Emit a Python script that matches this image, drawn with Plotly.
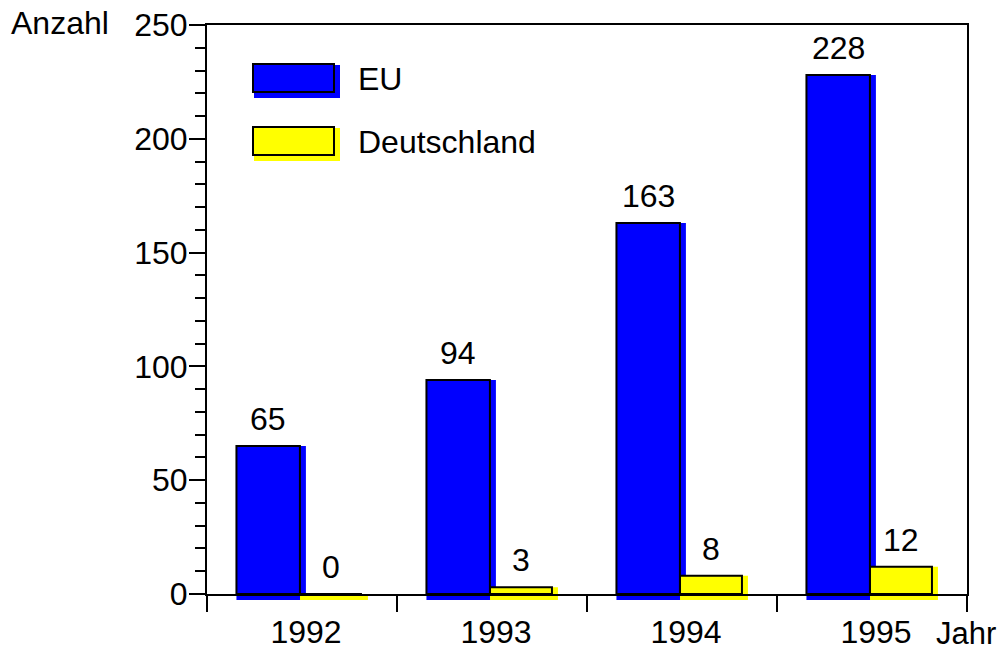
import plotly.graph_objects as go

# ---- data ----
years = ["1992", "1993", "1994", "1995"]
eu = [65, 94, 163, 228]
de = [0, 3, 8, 12]
y_ticks = [0, 50, 100, 150, 200, 250]
y_title = "Anzahl"
x_title = "Jahr"
series_names = ["EU", "Deutschland"]

# ---- styles / layout ----
OFF = 0                      # page body margin (set to 0 via post_script)
W, H = 1000, 646
ML, MR, MT, MB = 207, 33, 25, 52
PW, PH = W - ML - MR, H - MT - MB
FONT = "Liberation Sans, Arial, sans-serif"
FS = 32
BLUE = "#0000FF"
YELLOW = "#FFFF00"
CAT_PX = PW / len(years)
SH = 6 / CAT_PX            # shadow shift in category units
SHY = 6 / PH               # shadow depth in paper units
EU_OFF, EU_W = -0.345, 0.334
DE_OFF, DE_W = -0.0105, 0.326


def px_x(px):
    return (px - OFF - ML) / PW


def px_y(py):
    return (H - MB - (py - OFF)) / PH


fig = go.Figure()
# shadow fills
fig.add_trace(go.Bar(x=years, y=eu, offset=EU_OFF, width=EU_W + SH,
                     marker=dict(color=BLUE, line=dict(width=0)), hoverinfo="skip"))
fig.add_trace(go.Bar(x=years, y=de, offset=DE_OFF, width=DE_W + SH,
                     marker=dict(color=YELLOW, line=dict(width=0)), hoverinfo="skip"))
# outlines
fig.add_trace(go.Bar(x=years, y=eu, offset=EU_OFF, width=EU_W,
                     marker=dict(color="rgba(0,0,0,0)", line=dict(color="black", width=2)),
                     hoverinfo="skip"))
fig.add_trace(go.Bar(x=years, y=de, offset=DE_OFF, width=DE_W,
                     marker=dict(color="rgba(0,0,0,0)", line=dict(color="black", width=2)),
                     hoverinfo="skip"))

shapes = []
annotations = []
for i in range(len(years)):
    # shadow strips below the axis
    shapes.append(dict(type="rect", xref="x", yref="paper", layer="below",
                       x0=i + EU_OFF, x1=i + EU_OFF + EU_W + SH, y0=0, y1=-SHY,
                       fillcolor=BLUE, line=dict(width=0)))
    shapes.append(dict(type="rect", xref="x", yref="paper", layer="below",
                       x0=i + DE_OFF, x1=i + DE_OFF + DE_W + SH, y0=0, y1=-SHY,
                       fillcolor=YELLOW, line=dict(width=0)))
    annotations.append(dict(x=i + EU_OFF + EU_W / 2, y=eu[i], xref="x", yref="y",
                            text=str(eu[i]), showarrow=False, yanchor="bottom", yshift=7,
                            font=dict(family=FONT, size=FS, color="black")))
    annotations.append(dict(x=i + DE_OFF + DE_W / 2, y=de[i], xref="x", yref="y",
                            text=str(de[i]), showarrow=False, yanchor="bottom", yshift=7,
                            font=dict(family=FONT, size=FS, color="black")))

# legend swatches
legend_rows = [(series_names[0], BLUE, 64), (series_names[1], YELLOW, 127)]
for name, col, top in legend_rows:
    shapes.append(dict(type="rect", xref="paper", yref="paper", layer="above",
                       x0=px_x(254), x1=px_x(340), y0=px_y(top + 1), y1=px_y(top + 34),
                       fillcolor=col, line=dict(width=0)))
    shapes.append(dict(type="rect", xref="paper", yref="paper", layer="above",
                       x0=px_x(253), x1=px_x(334), y0=px_y(top), y1=px_y(top + 28),
                       fillcolor="rgba(0,0,0,0)", line=dict(color="black", width=2)))
    annotations.append(dict(x=px_x(356), y=px_y(top + 15), xref="paper", yref="paper",
                            text=name, showarrow=False, xanchor="left", yanchor="middle",
                            font=dict(family=FONT, size=FS, color="black")))

annotations.append(dict(x=px_x(9), y=px_y(23), xref="paper", yref="paper", text=y_title,
                        showarrow=False, xanchor="left", yanchor="middle",
                        font=dict(family=FONT, size=FS, color="black")))
annotations.append(dict(x=px_x(934), y=px_y(633), xref="paper", yref="paper", text=x_title,
                        showarrow=False, xanchor="left", yanchor="middle",
                        font=dict(family=FONT, size=31, color="black")))

fig.update_layout(
    width=W, height=H,
    margin=dict(l=ML, r=MR, t=MT, b=MB, pad=0, autoexpand=False),
    paper_bgcolor="white", plot_bgcolor="white",
    barmode="overlay", showlegend=False,
    shapes=shapes, annotations=annotations,
    font=dict(family=FONT, size=FS, color="black"),
    xaxis=dict(type="category", categoryorder="array", categoryarray=years,
               range=[-0.5, len(years) - 0.5], tickson="boundaries",
               ticks="outside", ticklen=16, tickwidth=2, tickcolor="black",
               showline=True, linewidth=2, linecolor="black", mirror=True,
               showgrid=False, zeroline=False, ticklabelshift=4, ticklabelstandoff=9,
               automargin=False, ticklabeloverflow="allow",
               tickfont=dict(family=FONT, size=FS, color="black")),
    yaxis=dict(range=[0, 250], tickvals=y_ticks, ticks="outside", ticklen=16,
               tickwidth=2, tickcolor="black", automargin=False, ticklabelstandoff=-5,
               ticklabeloverflow="allow",
               minor=dict(dtick=10, tick0=0, ticks="outside", ticklen=10,
                          tickwidth=2, tickcolor="black", showgrid=False),
               showline=True, linewidth=2, linecolor="black", mirror=True,
               showgrid=False, zeroline=False,
               tickfont=dict(family=FONT, size=FS, color="black")),
)

fig.write_html(
    "out.html",
    config={"displayModeBar": False},
    post_script="document.body.style.margin='0';document.body.style.overflow='hidden';",
)
